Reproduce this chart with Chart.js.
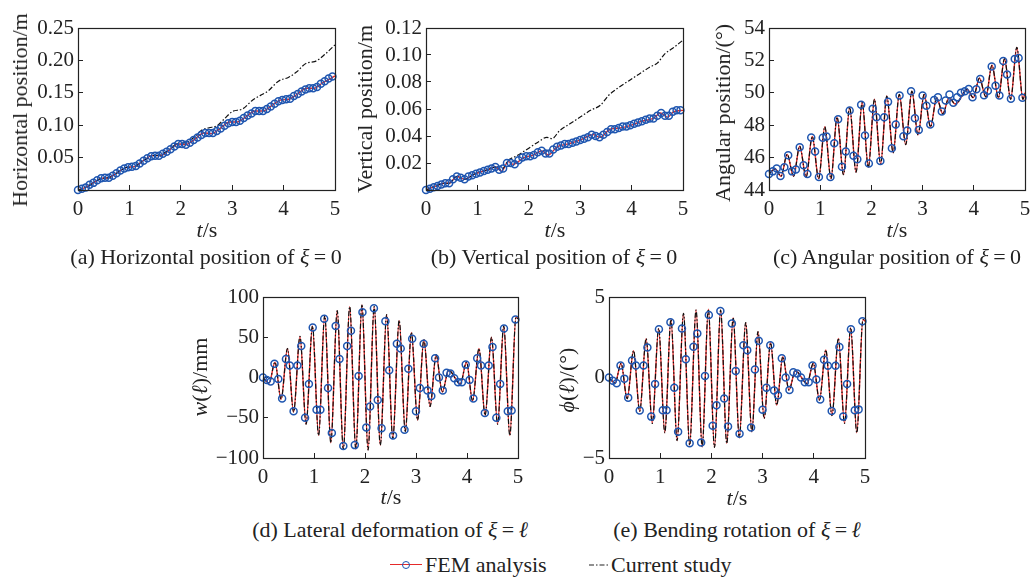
<!DOCTYPE html>
<html>
<head>
<meta charset="utf-8">
<script src="https://cdn.jsdelivr.net/npm/chart.js@4.4.1/dist/chart.umd.min.js"></script>
<style>
body{margin:0;width:1032px;height:578px;overflow:hidden;background:#fff;font-family:'Liberation Serif',serif;color:#222;position:relative}
canvas{position:absolute}
.t{position:absolute;white-space:nowrap;font-size:22px;transform:translate(-50%,-50%)}
.r{transform:translate(-50%,-50%) rotate(-90deg)}
.l{position:absolute;white-space:nowrap;font-size:22px;transform:translateY(-50%)}
</style>
</head>
<body>
<canvas id="ca" style="left:18px;top:14px" width="331" height="211"></canvas>
<canvas id="cb" style="left:366px;top:14px" width="331" height="211"></canvas>
<canvas id="cc" style="left:709px;top:14px" width="323" height="211"></canvas>
<canvas id="cd" style="left:203px;top:283px" width="329" height="210"></canvas>
<canvas id="ce" style="left:549px;top:283px" width="330" height="210"></canvas>

<div class="t r" style="left:20px;top:110px">Horizontal position/m</div>
<div class="t r" style="left:365px;top:109px">Vertical position/m</div>
<div class="t r" style="left:723px;top:113px">Angular position/(°)</div>
<div class="t r" style="left:200px;top:377px"><i>w</i>(<i>ℓ</i>)/mm</div>
<div class="t r" style="left:567px;top:380px"><i>ϕ</i>(<i>ℓ</i>)/(°)</div>

<div class="t" style="left:207px;top:230px"><i>t</i>/s</div>
<div class="t" style="left:555px;top:230px"><i>t</i>/s</div>
<div class="t" style="left:897px;top:230px"><i>t</i>/s</div>
<div class="t" style="left:391px;top:497px"><i>t</i>/s</div>
<div class="t" style="left:737px;top:498px"><i>t</i>/s</div>

<div class="t" style="left:206px;top:257px">(a) Horizontal position of <i>ξ</i>&#8201;=&#8201;0</div>
<div class="t" style="left:554px;top:257px">(b) Vertical position of <i>ξ</i>&#8201;=&#8201;0</div>
<div class="t" style="left:897px;top:257px">(c) Angular position of <i>ξ</i>&#8201;=&#8201;0</div>
<div class="t" style="left:390px;top:530px">(d) Lateral deformation of <i>ξ</i>&#8201;=&#8201;<i>ℓ</i></div>
<div class="t" style="left:737px;top:530px">(e) Bending rotation of <i>ξ</i>&#8201;=&#8201;<i>ℓ</i></div>

<!-- legend -->
<div style="position:absolute;left:390px;top:564px;width:32px;border-top:1.3px solid #e52a2a"></div>
<div style="position:absolute;left:402px;top:561px;width:6px;height:6px;border:1.5px solid #1f56b0;border-radius:50%"></div>
<div class="l" style="left:425px;top:565px">FEM analysis</div>
<svg style="position:absolute;left:589px;top:563px" width="20" height="4"><line x1="0" y1="2" x2="20" y2="2" stroke="#222" stroke-width="1.2" stroke-dasharray="5,2,1.5,2"/></svg>
<div class="l" style="left:611px;top:565px">Current study</div>

<script>
// FEM sample times (markers)
const tFem = [0,0.075,0.15,0.225,0.3,0.375,0.45,0.525,0.6,0.675,0.75,0.825,0.9,0.975,1.05,1.125,1.2,1.275,1.35,1.425,1.5,1.575,1.65,1.725,1.8,1.875,1.95,2.025,2.1,2.175,2.25,2.325,2.4,2.475,2.55,2.625,2.7,2.775,2.85,2.925,3.0,3.075,3.15,3.225,3.3,3.375,3.45,3.525,3.6,3.675,3.75,3.825,3.9,3.975,4.05,4.125,4.2,4.275,4.35,4.425,4.5,4.575,4.65,4.725,4.8,4.875,4.95];

// (a) horizontal position
const aFem = [0,0.002,0.004,0.008,0.011,0.015,0.018,0.019,0.019,0.022,0.026,0.030,0.033,0.035,0.036,0.037,0.041,0.045,0.049,0.052,0.053,0.053,0.056,0.059,0.063,0.067,0.071,0.071,0.070,0.073,0.077,0.081,0.085,0.088,0.088,0.088,0.091,0.095,0.099,0.103,0.105,0.105,0.107,0.111,0.115,0.118,0.122,0.122,0.122,0.125,0.129,0.133,0.137,0.139,0.140,0.141,0.145,0.148,0.152,0.155,0.157,0.157,0.159,0.164,0.168,0.172,0.175];
const aLineT = [0,0.15,0.3,0.45,0.6,0.75,0.95,1.1,1.25,1.45,1.6,1.75,1.95,2.1,2.25,2.45,2.6,2.75,2.95,3.1,3.25,3.45,3.6,3.75,3.95,4.1,4.25,4.45,4.6,4.75,5.0];
const aLineY = [0,0.004,0.011,0.018,0.019,0.026,0.035,0.036,0.044,0.053,0.053,0.060,0.071,0.070,0.077,0.088,0.087,0.094,0.105,0.105,0.112,0.122,0.122,0.129,0.139,0.140,0.147,0.157,0.157,0.165,0.176];
const aCurT = [0,0.15,0.3,0.45,0.6,0.75,0.95,1.1,1.25,1.45,1.6,1.75,1.95,2.1,2.25,2.4,2.55,2.7,2.85,3.0,3.2,3.4,3.55,3.7,3.9,4.1,4.25,4.45,4.6,4.8,5.0];
const aCurY = [0,0.004,0.011,0.018,0.019,0.026,0.035,0.036,0.044,0.053,0.054,0.061,0.072,0.073,0.081,0.092,0.096,0.099,0.110,0.121,0.125,0.139,0.146,0.153,0.168,0.174,0.182,0.196,0.198,0.209,0.224];

// (b) vertical position
const bFem = [0,0.001,0.002,0.003,0.004,0.005,0.005,0.008,0.010,0.009,0.008,0.010,0.011,0.012,0.013,0.014,0.015,0.016,0.017,0.015,0.016,0.020,0.020,0.019,0.022,0.024,0.025,0.025,0.026,0.028,0.029,0.027,0.027,0.030,0.032,0.033,0.034,0.034,0.035,0.036,0.037,0.038,0.039,0.041,0.040,0.039,0.041,0.043,0.045,0.045,0.046,0.047,0.047,0.048,0.049,0.050,0.051,0.052,0.053,0.053,0.055,0.057,0.055,0.055,0.058,0.059,0.059];
const bLineT = [0,0.2,0.35,0.45,0.6,0.75,0.95,1.2,1.35,1.47,1.6,1.7,1.9,2.1,2.25,2.38,2.55,2.75,3.0,3.25,3.38,3.58,3.78,4.0,4.2,4.42,4.56,4.7,4.82,5.0];
const bLineY = [0,0.003,0.005,0.005,0.010,0.008,0.012,0.015,0.017,0.014,0.021,0.019,0.024,0.026,0.029,0.026,0.032,0.034,0.037,0.041,0.039,0.045,0.046,0.048,0.051,0.053,0.057,0.054,0.058,0.059];
const bCurT = [0,0.2,0.35,0.45,0.6,0.75,0.95,1.2,1.35,1.47,1.6,1.75,2.0,2.2,2.35,2.45,2.6,2.8,3.0,3.2,3.4,3.55,3.75,3.95,4.15,4.35,4.5,4.65,4.8,5.0];
const bCurY = [0,0.003,0.005,0.005,0.010,0.008,0.012,0.015,0.017,0.015,0.022,0.025,0.031,0.036,0.039,0.038,0.044,0.049,0.054,0.059,0.063,0.070,0.076,0.081,0.086,0.091,0.094,0.101,0.105,0.111];

// extreme-point times of the oscillating curves (c, d, e)
const tPeaks = [0,0.12,0.235,0.355,0.48,0.6,0.725,0.845,0.97,1.09,1.21,1.33,1.455,1.575,1.70,1.82,1.94,2.06,2.18,2.30,2.425,2.545,2.67,2.79,2.91,3.03,3.155,3.275,3.395,3.515,3.64,3.87,3.99,4.11,4.235,4.355,4.48,4.60,4.72,4.84,4.96,5.0];

// (c) angular position
const cFem = [44.99,45.15,45.32,44.87,45.40,46.14,45.15,45.26,46.64,45.53,44.99,47.24,46.37,44.80,47.22,47.30,44.80,46.89,48.37,45.44,46.37,48.91,46.12,45.90,49.26,47.36,45.63,49.01,48.49,45.79,48.49,49.44,46.58,48.04,49.84,47.32,47.67,50.10,48.43,47.71,49.84,49.20,48.04,49.55,49.73,48.84,49.53,49.89,49.38,49.73,50.00,50.10,50.23,49.73,50.22,50.85,49.85,50.12,51.63,50.43,49.83,51.96,51.13,49.63,52.08,52.15,49.70];
const cLine = [45.0,45.3,44.85,46.2,44.85,46.7,44.8,47.3,44.7,47.9,44.7,48.5,44.95,49.1,45.1,49.4,45.4,49.6,45.6,49.8,46.3,49.9,46.8,50.1,47.4,49.9,47.9,49.7,48.7,49.7,49.3,50.2,49.7,50.9,49.75,51.7,49.7,52.1,49.6,52.8,49.6,50.0];

// (d) lateral deformation, mm
const dFem = [0,-3,-5,17,-2,-26,23,15,-42,15,39,-50,-8,62,-40,-40,73,-13,-69,64,23,-85,39,58,-84,2,81,-62,-36,86,-28,-63,70,9,-72,42,36,-65,11,48,-42,-13,42,-16,-23,24,0,-16,6,5,-1,-6,-6,16,-3,-26,24,15,-44,15,38,-50,-8,61,-42,-41,72];
const dLine = [0,-7,19,-27,36,-43,51,-58,64,-72,77,-81,83,-89,88,-89,90,-90,88,-84,78,-76,71,-67,56,-53,47,-36,28,-18,9,-8,19,-29,36,-47,50,-58,64,-72,75,73];

// (e) bending rotation, deg
const eFem = [0,-0.2,-0.35,0.75,-0.07,-1.25,1.05,0.74,-2.05,0.74,1.87,-2.43,-0.4,3.0,-2.04,-2.04,3.43,-0.63,-3.37,3.05,1.13,-4.09,1.91,2.74,-4.03,0.1,3.88,-3.0,-1.73,4.13,-1.31,-3.05,3.36,0.4,-3.49,2.0,1.7,-3.1,0.5,2.28,-2.0,-0.63,2.0,-0.8,-1.1,1.19,0.0,-0.78,0.32,0.25,0.0,-0.3,-0.3,0.75,-0.13,-1.36,1.1,0.73,-2.08,0.73,1.9,-2.43,-0.4,3.0,-2.04,-1.98,3.5];
const eLine = [0,-0.35,0.88,-1.31,1.67,-2.1,2.41,-2.85,3.05,-3.43,3.61,-3.92,3.98,-4.2,4.19,-4.3,4.24,-4.34,4.19,-4.09,3.72,-3.74,3.41,-3.37,2.85,-2.54,2.16,-1.71,1.29,-0.78,0.42,-0.38,0.88,-1.4,1.71,-2.37,2.43,-2.85,3.09,-3.43,3.61,3.5];

// tick values
const xTicks = [0,1,2,3,4,5];
const yTicksA = [0.05,0.10,0.15,0.20,0.25];
const yTicksB = [0.02,0.04,0.06,0.08,0.10,0.12];
const yTicksC = [44,46,48,50,52,54];
const yTicksD = [-100,-50,0,50,100];
const yTicksE = [-5,0,5];

const RED = '#e52a2a', BLUE = '#1f56b0', INK = '#222';
Chart.defaults.font.family = "'Liberation Serif', serif";
Chart.defaults.color = INK;

function pts(xs, ys) { return xs.map((x, i) => ({x: x, y: ys[i]})); }
function fmt(v, dec) {
  var s = Math.abs(v).toFixed(dec);
  return v < 0 ? '\u2212' + s : s;
}

// box around the axes
const framePlugin = {
  id: 'frame',
  afterDraw(chart) {
    const a = chart.chartArea, ctx = chart.ctx;
    ctx.save();
    ctx.strokeStyle = INK;
    ctx.lineWidth = 1.2;
    ctx.strokeRect(Math.round(a.left) + 0.5, Math.round(a.top) + 0.5, Math.round(a.right - a.left), Math.round(a.bottom - a.top));
    ctx.restore();
  }
};

function makePanel(id, p) {
  return new Chart(document.getElementById(id), {
    type: 'line',
    data: {
      datasets: [
        { data: pts(tFem, p.fem), showLine: false, pointRadius: 3.5, pointBorderWidth: 1.5,
          pointBorderColor: BLUE, pointBackgroundColor: 'rgba(0,0,0,0)', clip: 8, order: 0 },
        { data: pts(p.curT, p.curY), borderColor: '#111', borderWidth: 1.2, borderDash: [5, 2, 1.5, 2],
          pointRadius: 0, cubicInterpolationMode: 'monotone', order: 1 },
        { data: pts(p.lineT, p.lineY), borderColor: RED, borderWidth: 1.4,
          pointRadius: 0, cubicInterpolationMode: 'monotone', order: 2 }
      ]
    },
    options: {
      responsive: false,
      animation: false,
      events: [],
      layout: { padding: { left: 0, top: 14, right: p.padR, bottom: 0 } },
      plugins: { legend: { display: false }, tooltip: { enabled: false } },
      scales: {
        x: {
          type: 'linear', min: 0, max: 5,
          afterBuildTicks: s => { s.ticks = xTicks.map(v => ({value: v})); },
          afterFit: s => { s.height = 35; s.paddingLeft = 0; s.paddingRight = 0; },
          ticks: { padding: 12, maxRotation: 0, autoSkip: false, color: INK, font: { size: 21 },
                   callback: v => fmt(v, 0) },
          grid: { drawOnChartArea: false, tickLength: -5, color: INK },
          border: { display: false }
        },
        y: {
          min: p.yMin, max: p.yMax,
          afterBuildTicks: s => { s.ticks = p.yTicks.map(v => ({value: v})); },
          afterFit: s => { s.width = 60; s.paddingTop = 0; s.paddingBottom = 0; },
          ticks: { padding: 9, autoSkip: false, color: INK, font: { size: 21 },
                   callback: v => fmt(v, p.dec) },
          grid: { drawOnChartArea: false, tickLength: -5, color: INK },
          border: { display: false }
        }
      }
    },
    plugins: [framePlugin]
  });
}

makePanel('ca', { fem: aFem, lineT: aLineT, lineY: aLineY, curT: aCurT, curY: aCurY,
  yMin: 0, yMax: 0.25, yTicks: yTicksA, dec: 2, padR: 14 });
makePanel('cb', { fem: bFem, lineT: bLineT, lineY: bLineY, curT: bCurT, curY: bCurY,
  yMin: 0, yMax: 0.12, yTicks: yTicksB, dec: 2, padR: 14 });
makePanel('cc', { fem: cFem, lineT: tPeaks, lineY: cLine, curT: tPeaks, curY: cLine,
  yMin: 44, yMax: 54, yTicks: yTicksC, dec: 0, padR: 7 });
makePanel('cd', { fem: dFem, lineT: tPeaks, lineY: dLine, curT: tPeaks, curY: dLine,
  yMin: -100, yMax: 100, yTicks: yTicksD, dec: 0, padR: 14 });
makePanel('ce', { fem: eFem, lineT: tPeaks, lineY: eLine, curT: tPeaks, curY: eLine,
  yMin: -5, yMax: 5, yTicks: yTicksE, dec: 0, padR: 14 });
</script>
</body>
</html>
